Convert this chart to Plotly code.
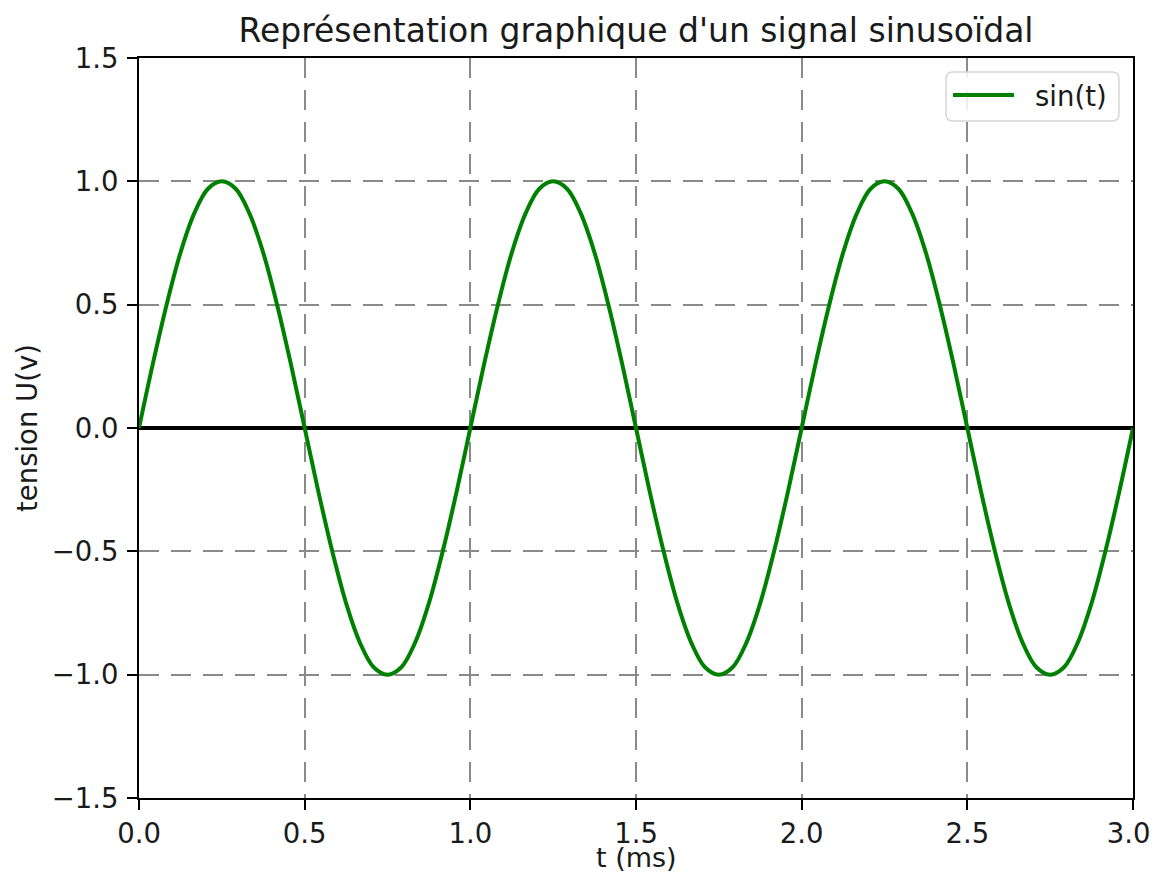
import plotly.graph_objects as go

t_ms = [0.0, 0.0417, 0.0833, 0.125, 0.1667, 0.2083, 0.25, 0.2917, 0.3333, 0.375, 0.4167, 0.4583,
        0.5, 0.5417, 0.5833, 0.625, 0.6667, 0.7083, 0.75, 0.7917, 0.8333, 0.875, 0.9167, 0.9583,
        1.0, 1.0417, 1.0833, 1.125, 1.1667, 1.2083, 1.25, 1.2917, 1.3333, 1.375, 1.4167, 1.4583,
        1.5, 1.5417, 1.5833, 1.625, 1.6667, 1.7083, 1.75, 1.7917, 1.8333, 1.875, 1.9167, 1.9583,
        2.0, 2.0417, 2.0833, 2.125, 2.1667, 2.2083, 2.25, 2.2917, 2.3333, 2.375, 2.4167, 2.4583,
        2.5, 2.5417, 2.5833, 2.625, 2.6667, 2.7083, 2.75, 2.7917, 2.8333, 2.875, 2.9167, 2.9583,
        3.0]
u_volts = [0.0, 0.26, 0.5, 0.71, 0.87, 0.97, 1.0, 0.97, 0.87, 0.71, 0.5, 0.26,
           0.0, -0.26, -0.5, -0.71, -0.87, -0.97, -1.0, -0.97, -0.87, -0.71, -0.5, -0.26,
           0.0, 0.26, 0.5, 0.71, 0.87, 0.97, 1.0, 0.97, 0.87, 0.71, 0.5, 0.26,
           0.0, -0.26, -0.5, -0.71, -0.87, -0.97, -1.0, -0.97, -0.87, -0.71, -0.5, -0.26,
           0.0, 0.26, 0.5, 0.71, 0.87, 0.97, 1.0, 0.97, 0.87, 0.71, 0.5, 0.26,
           0.0, -0.26, -0.5, -0.71, -0.87, -0.97, -1.0, -0.97, -0.87, -0.71, -0.5, -0.26,
           0.0]

x_ticks = [0.0, 0.5, 1.0, 1.5, 2.0, 2.5, 3.0]
x_tick_labels = ["0.0", "0.5", "1.0", "1.5", "2.0", "2.5", "3.0\u00a0"]
y_ticks = [-1.5, -1.0, -0.5, 0.0, 0.5, 1.0, 1.5]
y_tick_labels = ["\u22121.5", "\u22121.0", "\u22120.5", "0.0", "0.5", "1.0", "1.5"]

title_text = "Représentation graphique d'un signal sinusoïdal"
x_label = "t (ms)"
y_label = "tension U(v)"
series_name = "sin(t)"

FONT = "DejaVu Sans"
OFF = 8  # page body margin
W, H = 1157 - OFF, 883 - 2 * OFF
# plot area in page pixels: x 139..1133, y 58..798
PX0, PX1, PY0, PY1 = 139, 1133, 58, 798
L, R, T, B = PX0 - OFF, OFF + W - PX1, PY0 - OFF, OFF + H - PY1
PW, PH = PX1 - PX0, PY1 - PY0
TXT = "#1a1a1a"
GREEN = "#008000"


def px(xp):
    return (xp - PX0) / PW


def py(yp):
    return (PY1 - yp) / PH


fig = go.Figure()
fig.add_trace(go.Scatter(
    x=t_ms, y=u_volts, mode="lines", name=series_name, showlegend=False,
    line=dict(color=GREEN, width=4, shape="spline", smoothing=1.0),
))

axis_common = dict(
    showline=True, linecolor="black", linewidth=2, mirror=True,
    ticks="outside", ticklen=10, tickwidth=2, tickcolor="black",
    showgrid=True, gridcolor="#8a8a8a", gridwidth=1.8, griddash="20px,12px",
    tickfont=dict(family=FONT, size=27.5, color=TXT),
    ticklabeloverflow="allow", automargin=False,
)

fig.update_xaxes(range=[0, 3], tickvals=x_ticks, ticktext=x_tick_labels,
                 zeroline=False, ticklabelstandoff=0, **axis_common)
fig.update_yaxes(range=[-1.5, 1.5], tickvals=y_ticks, ticktext=y_tick_labels,
                 zeroline=True, zerolinecolor="black", zerolinewidth=4,
                 ticklabelstandoff=3, **axis_common)

# legend box (rounded) drawn manually to match the reference layout
bx0, bx1, by0, by1, rad = 946, 1119, 72, 121, 7
path = (
    f"M {px(bx0 + rad)} {py(by0)} L {px(bx1 - rad)} {py(by0)} "
    f"Q {px(bx1)} {py(by0)} {px(bx1)} {py(by0 + rad)} "
    f"L {px(bx1)} {py(by1 - rad)} Q {px(bx1)} {py(by1)} {px(bx1 - rad)} {py(by1)} "
    f"L {px(bx0 + rad)} {py(by1)} Q {px(bx0)} {py(by1)} {px(bx0)} {py(by1 - rad)} "
    f"L {px(bx0)} {py(by0 + rad)} Q {px(bx0)} {py(by0)} {px(bx0 + rad)} {py(by0)} Z"
)
shapes = [
    dict(type="path", xref="paper", yref="paper", path=path,
         fillcolor="rgba(255,255,255,0.85)", line=dict(color="#d6d6d6", width=1.5),
         layer="above"),
    dict(type="line", xref="paper", yref="paper",
         x0=px(953), x1=px(1014), y0=py(95), y1=py(95),
         line=dict(color=GREEN, width=4), layer="above"),
]

fig.update_layout(
    width=W, height=H,
    margin=dict(l=L, r=R, t=T, b=B, pad=0, autoexpand=False),
    paper_bgcolor="white", plot_bgcolor="white",
    font=dict(family=FONT, color=TXT),
    title=dict(text=title_text, x=0.5, xref="paper", y=1 - (30 - OFF) / H,
               yref="container", xanchor="center", yanchor="middle",
               font=dict(family=FONT, size=33, color=TXT)),
    showlegend=False,
    shapes=shapes,
    annotations=[
        dict(text=series_name, x=px(1033), xref="paper", y=py(96), yref="paper",
             xanchor="left", yanchor="middle", showarrow=False,
             font=dict(family=FONT, size=27.5, color=TXT)),
        dict(text=x_label, x=0.5, xref="paper", y=py(OFF + H), yref="paper",
             xanchor="center", yanchor="bottom", showarrow=False,
             font=dict(family=FONT, size=27, color=TXT)),
        dict(text=y_label, x=px(27), xref="paper", y=0.5, yref="paper",
             xanchor="center", yanchor="middle", showarrow=False, textangle=-90,
             font=dict(family=FONT, size=27.5, color=TXT)),
    ],
)

fig.write_html("out.html")
